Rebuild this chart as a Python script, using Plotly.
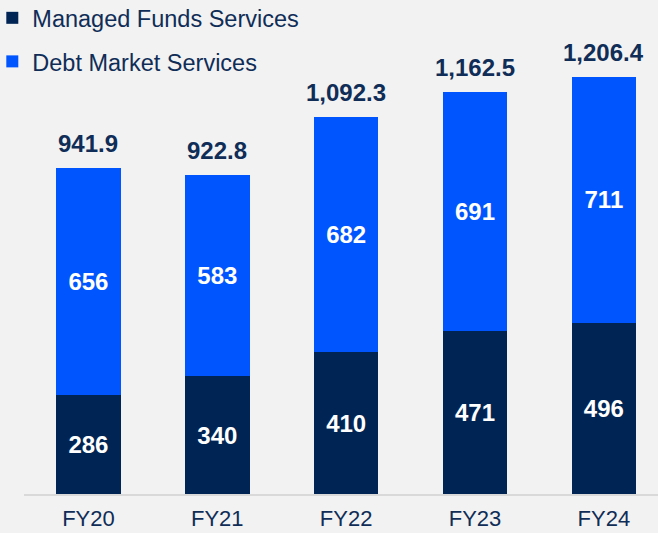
import plotly.graph_objects as go

categories = ["FY20", "FY21", "FY22", "FY23", "FY24"]
managed_funds = [286, 340, 410, 471, 496]
debt_market = [656, 583, 682, 691, 711]
total_labels = ["941.9", "922.8", "1,092.3", "1,162.5", "1,206.4"]

NAVY = "#002554"
BLUE = "#0055ff"
TEXT = "#0f2d57"
FONT = "Liberation Sans, Arial, sans-serif"

fig = go.Figure()
fig.add_trace(go.Bar(
    x=categories, y=managed_funds, name="Managed Funds Services",
    marker=dict(color=NAVY, line=dict(width=0)),
    texttemplate="<b>%{y}</b>", textposition="inside", insidetextanchor="middle",
    textfont=dict(size=24, color="white", family=FONT),
    legendgroup="a", width=0.5,
))
fig.add_trace(go.Bar(
    x=categories, y=debt_market, name="Debt Market Services",
    marker=dict(color=BLUE, line=dict(width=0)),
    texttemplate="<b>%{y}</b>", textposition="inside", insidetextanchor="middle",
    textfont=dict(size=24, color="white", family=FONT),
    legendgroup="b", width=0.5,
))

totals = [a + b for a, b in zip(managed_funds, debt_market)]
for c, t, lab in zip(categories, totals, total_labels):
    fig.add_annotation(x=c, y=t, text=f"<b>{lab}</b>", showarrow=False,
                       yanchor="bottom", yshift=9,
                       font=dict(size=24, color=TEXT, family=FONT))

fig.update_layout(
    width=658, height=533,
    margin=dict(l=24, r=0, t=0, b=39, autoexpand=False),
    barmode="stack",
    paper_bgcolor="#f2f2f2", plot_bgcolor="#f2f2f2",
    font=dict(family=FONT, color=TEXT),
    showlegend=True,
    legend=dict(x=-0.05, xanchor="left", y=1.008, yanchor="top",
                orientation="v", traceorder="grouped", tracegroupgap=10,
                font=dict(size=23.5, color=TEXT, family=FONT),
                bgcolor="rgba(0,0,0,0)"),
    xaxis=dict(type="category", range=[-0.5, 4.42], showgrid=False,
               showline=True, linecolor="#d9d9d9", linewidth=2,
               ticks="", tickfont=dict(size=22, color=TEXT, family=FONT),
               ticklabelstandoff=4, zeroline=False),
    yaxis=dict(range=[0, 1429], visible=False, showgrid=False, zeroline=False),
)

fig.write_html("out.html", config={"displayModeBar": False},
               post_script="document.body.style.margin='0';document.body.style.overflow='hidden';")
